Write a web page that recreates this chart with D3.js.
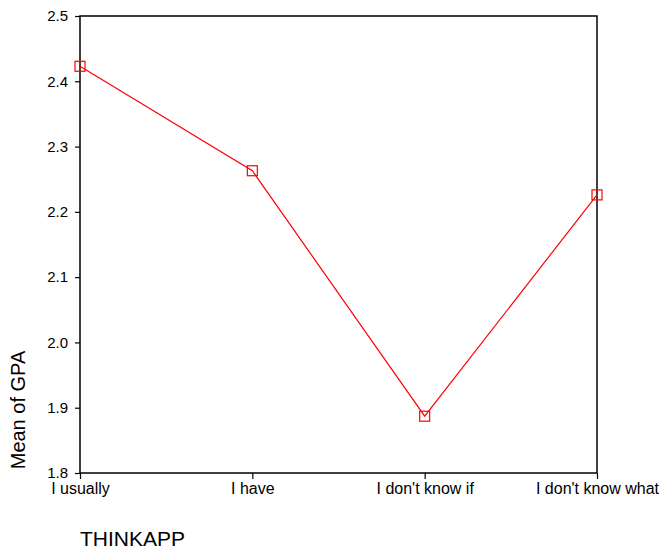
<!DOCTYPE html>
<html>
<head>
<meta charset="utf-8">
<script src="https://cdn.jsdelivr.net/npm/d3@7"></script>
<style>
  body { margin: 0; background: #fff; }
  text { font-family: Arial, "Liberation Sans", sans-serif; fill: #000; }
</style>
</head>
<body>
<div class="chart"></div>
<script>
// Mean of GPA by THINKAPP
var categories = ["I usually", "I have", "I don't know if", "I don't know what"];
var meanGPA = [2.423, 2.263, 1.887, 2.226];
var yTicks = [1.8, 1.9, 2.0, 2.1, 2.2, 2.3, 2.4, 2.5];

var width = 660, height = 549;
var margin = {top: 16, right: 63, bottom: 76, left: 80};
var w = width - margin.left - margin.right,
    h = height - margin.top - margin.bottom;

var svg = d3.select(".chart").append("svg")
    .attr("width", width)
    .attr("height", height);

var g = svg.append("g")
    .attr("transform", "translate(" + margin.left + "," + margin.top + ")");

var x = d3.scalePoint()
    .domain(categories)
    .range([0, w]);

var y = d3.scaleLinear()
    .domain([1.8, 2.5])
    .range([h, 0]);

// frame
g.append("rect")
    .attr("width", w)
    .attr("height", h)
    .style("fill", "none")
    .style("stroke", "black")
    .style("stroke-width", "1.5px");

var yAxis = g.append("g")
    .call(d3.axisLeft(y).tickValues(yTicks).tickFormat(d3.format(".1f")).tickSize(5).tickPadding(7));
yAxis.select(".domain").remove();
yAxis.selectAll("line").style("stroke-width", "1.2px");
yAxis.selectAll("text").style("font-size", "15px");

var xAxis = g.append("g")
    .attr("transform", "translate(0," + h + ")")
    .call(d3.axisBottom(x).tickSize(6).tickPadding(4));
xAxis.select(".domain").remove();
xAxis.selectAll("line").style("stroke-width", "1.2px");
xAxis.selectAll("text").style("font-size", "16px");

var line = d3.line()
    .x(function(d, i) { return x(categories[i]); })
    .y(function(d) { return y(d); });

g.append("path")
    .datum(meanGPA)
    .attr("d", line)
    .style("fill", "none")
    .style("stroke", "#ff0000")
    .style("stroke-width", "1.2px");

g.selectAll(".marker")
    .data(meanGPA)
    .enter().append("rect")
    .attr("class", "marker")
    .attr("x", function(d, i) { return x(categories[i]) - 5; })
    .attr("y", function(d) { return y(d) - 5; })
    .attr("width", 10)
    .attr("height", 10)
    .style("fill", "none")
    .style("stroke", "#ff0000")
    .style("stroke-width", "1.2px");

// axis titles
svg.append("text")
    .attr("transform", "translate(25," + 410 + ") rotate(-90)")
    .attr("text-anchor", "middle")
    .style("font-size", "20px")
    .text("Mean of GPA");

svg.append("text")
    .attr("x", 80)
    .attr("y", 546)
    .style("font-size", "21px")
    .text("THINKAPP");
</script>
</body>
</html>
